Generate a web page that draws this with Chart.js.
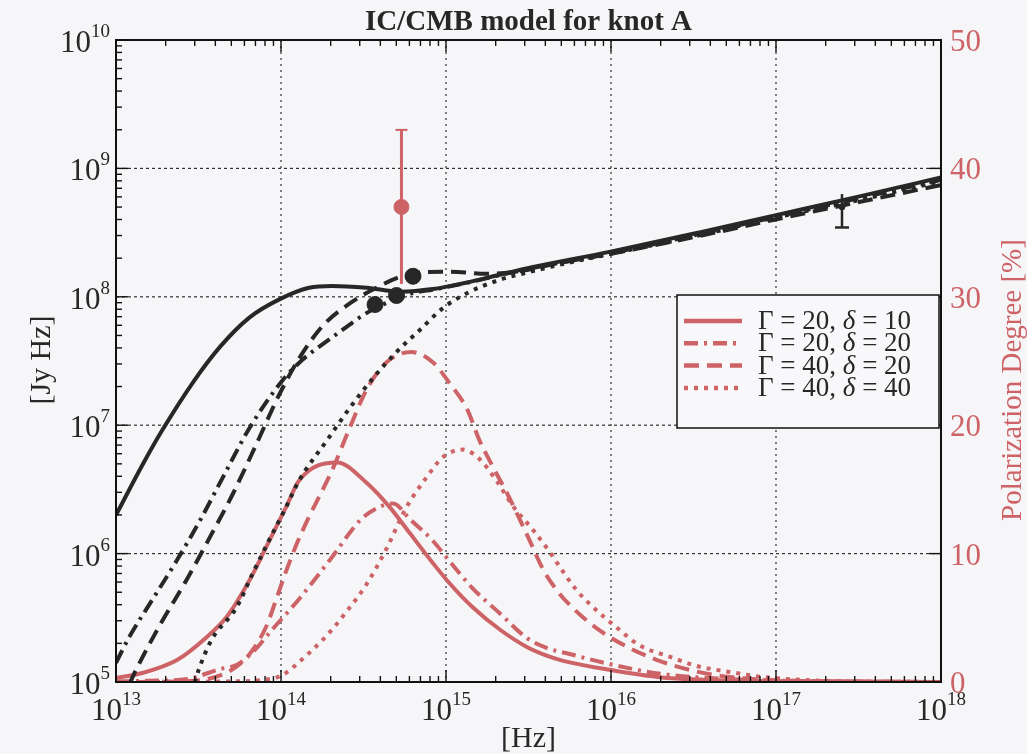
<!DOCTYPE html>
<html>
<head>
<meta charset="utf-8">
<title>IC/CMB model for knot A</title>
<script src="https://cdn.jsdelivr.net/npm/chart.js@4.4.1/dist/chart.umd.min.js"></script>
<style>
  html, body { margin: 0; padding: 0; background: #f6f5f7; }
  #wrap { width: 1027px; height: 754px; position: relative; }
</style>
</head>
<body>
<div id="wrap"><canvas id="sed"></canvas></div>
<script>
// axis decades (log10) and polarization ticks
const nuDecades = [13, 14, 15, 16, 17, 18];
const fluxDecades = [5, 6, 7, 8, 9, 10];
const polTicks = [0, 10, 20, 30, 40, 50];

// IC/CMB spectra: log10 nu [Hz] against log10 nuF_nu [Jy Hz]
const icNu_20_10 = [13.00, 13.16, 13.28, 13.47, 13.63, 13.81, 13.99, 14.17, 14.31, 14.52, 14.72, 14.92, 15.12, 15.32, 15.52, 15.99, 16.53, 16.98, 17.50, 18.00];
const icF_20_10  = [6.30, 6.69, 6.96, 7.34, 7.61, 7.84, 7.98, 8.07, 8.085, 8.07, 8.04, 8.06, 8.11, 8.17, 8.23, 8.35, 8.50, 8.63, 8.78, 8.93];

const icNu_20_20 = [13.00, 13.08, 13.22, 13.37, 13.51, 13.65, 13.81, 14.01, 14.13, 14.23, 14.37, 14.52, 14.68, 14.80, 14.92, 15.13, 15.33, 15.53, 16.00, 16.54, 16.99, 17.51, 18.00];
const icF_20_20  = [5.15, 5.35, 5.64, 5.95, 6.26, 6.60, 6.98, 7.35, 7.51, 7.61, 7.74, 7.875, 7.975, 8.03, 8.055, 8.11, 8.17, 8.225, 8.34, 8.49, 8.62, 8.77, 8.91];

const icNu_40_20 = [13.08, 13.12, 13.26, 13.43, 13.57, 13.71, 13.85, 13.99, 14.11, 14.25, 14.43, 14.60, 14.72, 14.84, 15.02, 15.25, 15.45, 15.69, 16.00, 16.54, 16.99, 17.51, 18.00];
const icF_40_20  = [4.98, 5.09, 5.43, 5.80, 6.13, 6.47, 6.85, 7.24, 7.52, 7.77, 7.96, 8.085, 8.155, 8.19, 8.195, 8.18, 8.20, 8.265, 8.335, 8.475, 8.60, 8.74, 8.87];

const icNu_40_40 = [13.46, 13.50, 13.58, 13.73, 13.83, 13.93, 14.03, 14.11, 14.28, 14.42, 14.56, 14.70, 14.84, 14.98, 15.13, 15.32, 15.51, 15.69, 16.00, 16.54, 16.99, 17.51, 18.00];
const icF_40_40  = [4.92, 5.09, 5.33, 5.58, 5.85, 6.11, 6.36, 6.57, 6.885, 7.14, 7.37, 7.57, 7.74, 7.91, 8.03, 8.13, 8.195, 8.25, 8.335, 8.48, 8.615, 8.755, 8.90];

// polarization degree [%] against log10 nu [Hz]
const polNu_20_10 = [13.00, 13.16, 13.37, 13.53, 13.67, 13.81, 13.91, 14.03, 14.11, 14.34, 14.52, 14.66, 14.78, 14.92, 15.02, 15.16, 15.33, 15.49, 15.61, 15.71, 15.99, 16.31, 16.72, 17.15, 18.00];
const pol_20_10   = [0.31, 0.70, 1.71, 3.27, 5.06, 7.95, 10.5, 13.6, 15.7, 17.1, 15.5, 13.6, 11.6, 9.27, 7.71, 5.84, 4.05, 2.73, 2.05, 1.65, 0.95, 0.35, 0.12, 0.05, 0.00];

const polNu_20_20 = [13.00, 13.20, 13.43, 13.63, 13.73, 13.83, 13.95, 14.11, 14.31, 14.48, 14.59, 14.68, 14.78, 14.92, 15.02, 15.16, 15.33, 15.49, 15.61, 15.75, 15.99, 16.31, 16.72, 17.15, 18.00];
const pol_20_20   = [0.05, 0.10, 0.23, 1.01, 1.32, 2.34, 4.13, 6.47, 9.74, 12.6, 13.6, 13.9, 12.7, 11.0, 9.43, 7.32, 5.30, 3.43, 2.65, 2.18, 1.40, 0.62, 0.23, 0.08, 0.00];

const polNu_40_20 = [13.00, 13.45, 13.69, 13.81, 13.91, 13.97, 14.03, 14.10, 14.16, 14.31, 14.42, 14.52, 14.64, 14.79, 14.92, 15.02, 15.13, 15.20, 15.27, 15.37, 15.49, 15.59, 15.67, 15.75, 15.91, 16.10, 16.28, 16.48, 16.72, 17.15, 18.00];
const pol_40_20   = [0.00, 0.08, 0.86, 2.18, 4.30, 6.40, 8.60, 10.9, 12.6, 16.5, 19.9, 22.8, 24.9, 25.7, 24.9, 23.3, 21.2, 18.9, 17.1, 14.7, 11.5, 8.73, 7.17, 6.00, 4.21, 2.73, 1.71, 0.93, 0.39, 0.08, 0.00];

const polNu_40_40 = [13.00, 13.70, 13.89, 14.01, 14.11, 14.28, 14.40, 14.52, 14.64, 14.76, 14.88, 14.98, 15.10, 15.20, 15.31, 15.40, 15.53, 15.63, 15.69, 15.79, 15.91, 16.03, 16.17, 16.36, 16.52, 16.72, 16.92, 17.33, 18.00];
const pol_40_40   = [0.00, 0.05, 0.16, 0.55, 1.56, 3.66, 5.53, 7.64, 10.4, 13.6, 15.9, 17.5, 18.1, 17.4, 15.6, 13.8, 11.8, 10.1, 8.96, 7.17, 5.61, 4.29, 2.88, 1.95, 1.25, 0.78, 0.39, 0.08, 0.00];

// measured fluxes (log10) and polarization
const optNu = [14.57, 14.70, 14.80];
const optF  = [7.94, 8.01, 8.16];
const xrayNu = [17.40];
const xrayF  = [8.70];
const xrayLo = [8.54];
const xrayHi = [8.80];
const polObsNu = [14.73];
const polObs   = [37];
const polObsLo = [31];
const polObsHi = [43];

// model parameters shown in the key
const gammas = [20, 20, 40, 40];
const deltas = [10, 20, 20, 40];

const ink = '#272727';
const rose = '#cd6367';
const serif = "'Liberation Serif', 'DejaVu Serif', serif";
const dashes = [[], [14, 6, 3, 6], [15, 8], [4, 6]];

const fluxCurves = [[icNu_20_10, icF_20_10], [icNu_20_20, icF_20_20], [icNu_40_20, icF_40_20], [icNu_40_40, icF_40_40]];
const polCurves = [[polNu_20_10, pol_20_10], [polNu_20_20, pol_20_20], [polNu_40_20, pol_40_20], [polNu_40_40, pol_40_40]];

const logPts = (nu, f) => nu.map((n, i) => ({ x: 10 ** n, y: 10 ** f[i] }));
const linPts = (nu, p) => nu.map((n, i) => ({ x: 10 ** n, y: p[i] }));

const datasets = [
  { type: 'scatter', data: logPts(optNu, optF), yAxisID: 'yFlux', pointRadius: 8, backgroundColor: ink, borderColor: ink, order: -2 },
  { type: 'scatter', data: logPts(xrayNu, xrayF), yAxisID: 'yFlux', pointRadius: 3, backgroundColor: ink, borderColor: ink, order: -2 },
  { type: 'scatter', data: linPts(polObsNu, polObs), yAxisID: 'yPol', pointRadius: 7.5, backgroundColor: rose, borderColor: rose, order: -2 },
];
fluxCurves.forEach(([nu, f], i) => datasets.push({
  data: logPts(nu, f), yAxisID: 'yFlux', borderColor: ink, borderDash: dashes[i], order: 0,
}));
polCurves.forEach(([nu, p], i) => datasets.push({
  data: linPts(nu, p), yAxisID: 'yPol', borderColor: rose, borderDash: dashes[i], order: 1,
}));

function seg(ctx, x1, y1, x2, y2) {
  ctx.beginPath(); ctx.moveTo(x1, y1); ctx.lineTo(x2, y2); ctx.stroke();
}

// "10" with a raised exponent; align is 'center' or 'right'
function powerLabel(ctx, exp, x, y, align) {
  const base = '10', sup = String(exp);
  ctx.font = '31px ' + serif;
  const wb = ctx.measureText(base).width;
  ctx.font = '19px ' + serif;
  const ws = ctx.measureText(sup).width;
  const left = align === 'center' ? x - (wb + ws) / 2 : x - wb - ws;
  ctx.font = '31px ' + serif;
  ctx.fillText(base, left, y);
  ctx.font = '19px ' + serif;
  ctx.fillText(sup, left + wb, y - 15);
}

const frame = {
  id: 'frame',
  beforeDatasetsDraw(chart) {
    const { ctx, chartArea: a, scales } = chart;
    ctx.save();
    ctx.strokeStyle = '#333';
    ctx.lineWidth = 1.2;
    ctx.setLineDash([2, 4]);
    nuDecades.slice(1, -1).forEach(d => {
      const x = scales.x.getPixelForValue(10 ** d);
      seg(ctx, x, a.top, x, a.bottom);
    });
    ctx.setLineDash([3, 3]);
    fluxDecades.slice(1, -1).forEach(d => {
      const y = scales.yFlux.getPixelForValue(10 ** d);
      seg(ctx, a.left, y, a.right, y);
    });
    ctx.restore();
  },
  afterDatasetsDraw(chart) {
    const { ctx, chartArea: a, scales } = chart;
    const sx = scales.x, sf = scales.yFlux, sp = scales.yPol;
    ctx.save();

    // error bars on the measured points
    ctx.strokeStyle = rose;
    polObsNu.forEach((n, i) => {
      const x = sx.getPixelForValue(10 ** n);
      const yl = sp.getPixelForValue(polObsLo[i]), yh = sp.getPixelForValue(polObsHi[i]);
      ctx.lineWidth = 3;
      seg(ctx, x, yl, x, yh);
      ctx.lineWidth = 2;
      seg(ctx, x - 6, yh, x + 6, yh);
    });
    ctx.strokeStyle = ink;
    ctx.lineWidth = 2.5;
    xrayNu.forEach((n, i) => {
      const x = sx.getPixelForValue(10 ** n);
      const yl = sf.getPixelForValue(10 ** xrayLo[i]), yh = sf.getPixelForValue(10 ** xrayHi[i]);
      seg(ctx, x, yl, x, yh);
      seg(ctx, x - 7, yl, x + 7, yl);
    });

    // box and tick marks
    ctx.strokeStyle = '#111';
    ctx.lineWidth = 2;
    ctx.strokeRect(a.left, a.top, a.right - a.left, a.bottom - a.top);
    ctx.lineWidth = 1.4;
    nuDecades.forEach((d, k) => {
      const x = sx.getPixelForValue(10 ** d);
      seg(ctx, x, a.bottom, x, a.bottom - 12);
      seg(ctx, x, a.top, x, a.top + 12);
      if (k === nuDecades.length - 1) return;
      for (let m = 2; m < 10; m++) {
        const xm = sx.getPixelForValue(m * 10 ** d);
        seg(ctx, xm, a.bottom, xm, a.bottom - 6);
        seg(ctx, xm, a.top, xm, a.top + 6);
      }
    });
    fluxDecades.forEach((d, k) => {
      const y = sf.getPixelForValue(10 ** d);
      seg(ctx, a.left, y, a.left + 12, y);
      if (k === fluxDecades.length - 1) return;
      for (let m = 2; m < 10; m++) {
        const ym = sf.getPixelForValue(m * 10 ** d);
        seg(ctx, a.left, ym, a.left + 6, ym);
      }
    });
    polTicks.forEach(p => {
      const y = sp.getPixelForValue(p);
      seg(ctx, a.right, y, a.right - 12, y);
    });

    // tick labels
    ctx.fillStyle = ink;
    ctx.textBaseline = 'alphabetic';
    nuDecades.forEach(d => powerLabel(ctx, d, sx.getPixelForValue(10 ** d), a.bottom + 38, 'center'));
    fluxDecades.forEach(d => powerLabel(ctx, d, a.left - 6, sf.getPixelForValue(10 ** d) + 12, 'right'));
    ctx.fillStyle = rose;
    ctx.font = '31px ' + serif;
    ctx.textAlign = 'left';
    polTicks.forEach(p => ctx.fillText(String(p), a.right + 9, sp.getPixelForValue(p) + 11));

    // titles
    ctx.fillStyle = ink;
    ctx.textAlign = 'center';
    ctx.font = 'bold 29px ' + serif;
    ctx.fillText('IC/CMB model for knot A', (a.left + a.right) / 2, 30);
    ctx.font = '30px ' + serif;
    ctx.fillText('[Hz]', (a.left + a.right) / 2, 747);
    ctx.save();
    ctx.translate(50, 360);
    ctx.rotate(-Math.PI / 2);
    ctx.fillText('[Jy Hz]', 0, 0);
    ctx.restore();
    ctx.save();
    ctx.fillStyle = rose;
    ctx.font = '29px ' + serif;
    ctx.translate(1021, 380);
    ctx.rotate(-Math.PI / 2);
    ctx.fillText('Polarization Degree [%]', 0, 0);
    ctx.restore();

    // key for the four parameter sets
    const bx = 677, by = 295, bw = 262, bh = 133;
    ctx.fillStyle = '#f8f7f9';
    ctx.fillRect(bx, by, bw, bh);
    ctx.strokeStyle = '#111';
    ctx.lineWidth = 1.5;
    ctx.strokeRect(bx, by, bw, bh);
    ctx.textAlign = 'left';
    gammas.forEach((g, i) => {
      const y = 321 + i * 22.3;
      ctx.strokeStyle = rose;
      ctx.lineWidth = 4.5;
      ctx.setLineDash(dashes[i]);
      seg(ctx, 684, y, 742, y);
      ctx.setLineDash([]);
      ctx.fillStyle = ink;
      let x = 758;
      [['Γ = ' + g + ', ', ''], ['δ', 'italic '], [' = ' + deltas[i], '']].forEach(([t, st]) => {
        ctx.font = st + '27px ' + serif;
        ctx.fillText(t, x, y + 8);
        x += ctx.measureText(t).width;
      });
    });
    ctx.restore();
  },
};

new Chart(document.getElementById('sed'), {
  type: 'line',
  data: { datasets },
  options: {
    responsive: true,
    maintainAspectRatio: false,
    animation: false,
    devicePixelRatio: 1,
    layout: { padding: { left: 116, right: 86, top: 40, bottom: 72 } },
    elements: {
      line: { borderWidth: 4, cubicInterpolationMode: 'monotone', fill: false },
      point: { radius: 0, hoverRadius: 0 },
    },
    plugins: { legend: { display: false }, tooltip: { enabled: false } },
    events: [],
    scales: {
      x: { type: 'logarithmic', min: 1e13, max: 1e18, display: false },
      yFlux: { type: 'logarithmic', position: 'left', min: 1e5, max: 1e10, display: false },
      yPol: { type: 'linear', position: 'right', min: 0, max: 50, display: false },
    },
  },
  plugins: [frame],
});
</script>
</body>
</html>
